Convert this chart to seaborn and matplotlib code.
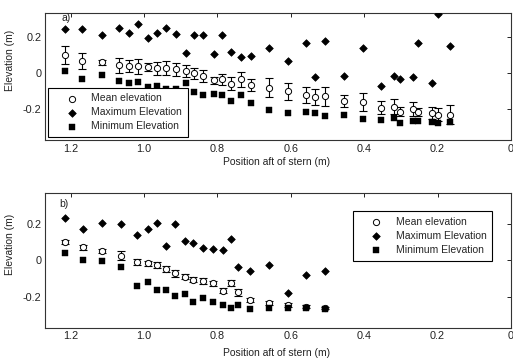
import matplotlib
matplotlib.use("Agg")
import matplotlib.pyplot as plt
import seaborn as sns
import pandas as pd

# ---- data ----
a_pos = [1.216, 1.169, 1.115, 1.068, 1.042, 1.016, 0.990, 0.966, 0.941, 0.914, 0.887,
         0.863, 0.838, 0.808, 0.787, 0.762, 0.736, 0.709, 0.659, 0.608, 0.558, 0.534,
         0.507, 0.456, 0.404, 0.353, 0.319, 0.303, 0.267, 0.252, 0.216, 0.200, 0.166]
a_mean = [0.098, 0.065, 0.058, 0.041, 0.037, 0.037, 0.033, 0.025, 0.025, 0.020, 0.009,
          -0.003, -0.018, -0.040, -0.035, -0.059, -0.035, -0.067, -0.081, -0.102, -0.122,
          -0.131, -0.129, -0.152, -0.161, -0.192, -0.185, -0.213, -0.198, -0.217, -0.220,
          -0.229, -0.229]
a_err = [0.049, 0.043, 0.016, 0.039, 0.032, 0.041, 0.023, 0.037, 0.039, 0.035, 0.032,
         0.032, 0.034, 0.019, 0.031, 0.034, 0.040, 0.031, 0.053, 0.047, 0.042, 0.044,
         0.052, 0.033, 0.048, 0.035, 0.040, 0.025, 0.037, 0.023, 0.034, 0.034, 0.050]
a_max = [0.241, 0.241, 0.209, 0.250, 0.219, 0.272, 0.191, 0.219, 0.246, 0.213, 0.111,
         0.209, 0.209, 0.102, 0.209, 0.113, 0.089, 0.093, 0.139, 0.067, 0.167, -0.022,
         0.176, -0.018, 0.136, -0.072, -0.017, -0.031, -0.022, 0.163, -0.056, 0.324, 0.150]
a_min = [0.008, -0.031, -0.013, -0.045, -0.057, -0.052, -0.080, -0.073, -0.090, -0.088,
         -0.055, -0.105, -0.124, -0.115, -0.120, -0.155, -0.124, -0.165, -0.202, -0.222,
         -0.217, -0.220, -0.235, -0.229, -0.254, -0.259, -0.248, -0.275, -0.263, -0.267,
         -0.268, -0.276, -0.269]

b_pos = [1.216, 1.166, 1.115, 1.064, 1.018, 0.990, 0.966, 0.939, 0.916, 0.889, 0.866,
         0.839, 0.811, 0.786, 0.763, 0.743, 0.711, 0.659, 0.608, 0.558, 0.506]
b_mean = [0.102, 0.072, 0.050, 0.026, -0.009, -0.015, -0.024, -0.048, -0.070, -0.089,
          -0.107, -0.113, -0.126, -0.168, -0.126, -0.176, -0.218, -0.233, -0.246, -0.255,
          -0.262]
b_err = [0.011, 0.014, 0.011, 0.024, 0.015, 0.014, 0.015, 0.018, 0.019, 0.014, 0.014,
         0.016, 0.012, 0.014, 0.017, 0.018, 0.010, 0.010, 0.010, 0.008, 0.006]
b_max = [0.232, 0.174, 0.208, 0.202, 0.143, 0.176, 0.208, 0.078, 0.202, 0.106, 0.096,
         0.069, 0.065, 0.056, 0.119, -0.037, -0.057, -0.024, -0.178, -0.079, -0.057]
b_min = [0.041, 0.000, -0.002, -0.037, -0.141, -0.120, -0.163, -0.163, -0.194, -0.185,
         -0.231, -0.209, -0.231, -0.246, -0.261, -0.246, -0.265, -0.261, -0.261, -0.261,
         -0.265]

x_ticks = [1.2, 1.0, 0.8, 0.6, 0.4, 0.2, 0.0]
x_ticklabels = ["1.2", "1.0", "0.8", "0.6", "0.4", "0.2", "0"]
y_ticks = [-0.2, 0.0, 0.2]
y_ticklabels = ["-0.2", "0", "0.2"]
labels = ["Mean elevation", "Maximum Elevation", "Minimum Elevation"]
xlabel = "Position aft of stern (m)"
ylabel = "Elevation (m)"

sns.set_style("white")
plt.rcParams["font.family"] = ["Liberation Sans", "DejaVu Sans"]
plt.rcParams["xtick.direction"] = "in"
plt.rcParams["ytick.direction"] = "in"

fig = plt.figure(figsize=(5.13, 3.62), dpi=100)
ax_a = fig.add_axes([0.0877, 0.613, 0.9083, 0.351])
ax_b = fig.add_axes([0.0877, 0.095, 0.9083, 0.371])


def draw(ax, pos, mean, err, mx, mn, ylim, tag, legend_kw):
    df = pd.DataFrame({"pos": pos, "mean": mean, "max": mx, "min": mn})
    ax.errorbar(df["pos"], df["mean"], yerr=err, fmt="none", ecolor="black",
                elinewidth=0.8, capsize=2.8, capthick=0.8, zorder=2)
    sns.scatterplot(data=df, x="pos", y="mean", ax=ax, marker="o", s=20,
                    facecolor="white", edgecolor="black", linewidth=0.7,
                    label=labels[0], zorder=3)
    sns.scatterplot(data=df, x="pos", y="max", ax=ax, marker="D", s=15,
                    color="black", edgecolor="black", linewidth=0.5,
                    label=labels[1], zorder=3)
    sns.scatterplot(data=df, x="pos", y="min", ax=ax, marker="s", s=24,
                    color="black", edgecolor="black", linewidth=0.3,
                    label=labels[2], zorder=3)
    ax.set_xlim(1.27, 0.0)
    ax.set_ylim(*ylim)
    ax.set_xticks(x_ticks)
    ax.set_xticklabels(x_ticklabels)
    ax.set_yticks(y_ticks)
    ax.set_yticklabels(y_ticklabels)
    ax.tick_params(axis="both", which="both", labelsize=7.8, length=3, width=0.6,
                   color="black", pad=2.5, top=True, right=True, labelcolor="#222222")
    for sp in ax.spines.values():
        sp.set_color("#333333")
        sp.set_linewidth(0.8)
    ax.set_xlabel(xlabel, fontsize=7.5, color="#222222")
    ax.set_ylabel(ylabel, fontsize=7.5, color="#222222")
    ax.text(tag[1], tag[2], tag[0], fontsize=7.5, ha="left", va="center",
            color="#222222")
    leg = ax.legend(fontsize=7.5, frameon=True, fancybox=False, framealpha=1,
                    edgecolor="black", handlelength=3.4, handletextpad=0.2,
                    borderpad=0.55, labelspacing=0.38, markerscale=1.0,
                    **legend_kw)
    leg.get_frame().set_linewidth(0.8)


draw(ax_a, a_pos, a_mean, a_err, a_max, a_min, (-0.37, 0.33), ("a)", 1.225, 0.302),
     dict(loc="lower left", bbox_to_anchor=(0.0, 0.0), borderaxespad=0.3))
draw(ax_b, b_pos, b_mean, b_err, b_max, b_min, (-0.37, 0.37), ("b)", 1.232, 0.309),
     dict(loc="upper right", bbox_to_anchor=(0.96, 0.865), borderaxespad=0.0))

ax_a.xaxis.set_label_coords(0.497, -0.135)
ax_b.xaxis.set_label_coords(0.497, -0.152)
ax_a.yaxis.set_label_coords(-0.064, 0.63)
ax_b.yaxis.set_label_coords(-0.064, 0.62)

fig.savefig("out.png", dpi=100)
